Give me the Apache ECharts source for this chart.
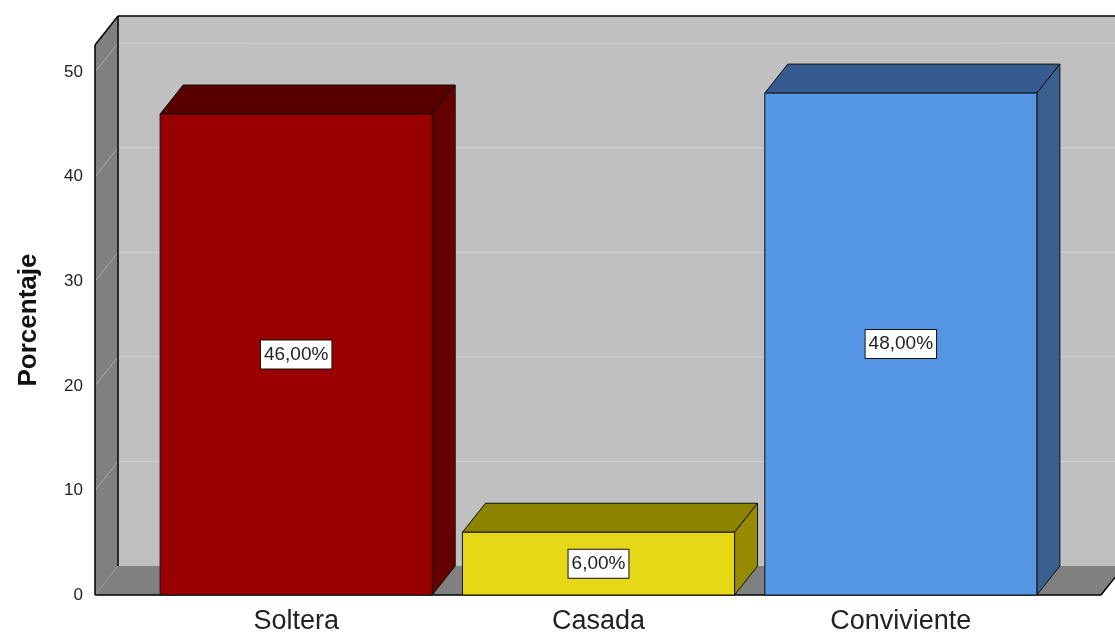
<!DOCTYPE html>
<html>
<head>
<meta charset="utf-8">
<script src="https://cdn.jsdelivr.net/npm/echarts@6/dist/echarts.min.js"></script>
<style>
  html, body { margin: 0; padding: 0; background: #fff; }
  #chart { width: 1115px; height: 635px; }
</style>
</head>
<body>
<div id="chart"></div>
<script>
// ---- data ----
const categories = ['Soltera', 'Casada', 'Conviviente'];
const percentages = [46, 6, 48];
const yTicks = [0, 10, 20, 30, 40, 50];

// ---- styles ----
const frontColors = ['#990000', '#e6d817', '#5596e3'];
const topColors = ['#580000', '#8c8400', '#365c8f'];
const sideColors = ['#640000', '#958a00', '#39608f'];
const DX = 23, DY = -29;
const FONT = '"Liberation Sans", Arial, sans-serif';

function fmtPct(v) { return v.toFixed(2).replace('.', ',') + '%'; }

const chart = echarts.init(document.getElementById('chart'), null, { renderer: 'canvas' });

const option = {
  animation: false,
  backgroundColor: '#ffffff',
  grid: { left: 145, right: 63, top: 45, bottom: 40, containLabel: false, outerBoundsMode: 'none' },
  xAxis: {
    type: 'category',
    data: categories,
    axisLine: { show: false },
    axisTick: { show: false },
    axisLabel: { fontSize: 27, color: '#222', fontFamily: FONT, margin: 13 }
  },
  yAxis: {
    type: 'value',
    min: 0,
    max: 52.6,
    interval: 10,
    name: 'Porcentaje',
    nameLocation: 'middle',
    nameGap: 103,
    nameTextStyle: { fontSize: 26, fontWeight: 'bold', color: '#111', fontFamily: FONT },
    axisLine: { show: false },
    axisTick: { show: false },
    splitLine: { show: false },
    axisLabel: {
      fontSize: 17, color: '#222', fontFamily: FONT, margin: 62,
      padding: [6, 0, 0, 0],
      showMaxLabel: false,
      formatter: function (v) { return yTicks.indexOf(v) >= 0 ? String(v) : ''; }
    }
  },
  series: [
    {
      type: 'custom',
      z: 1,
      silent: true,
      data: [[0, 0]],
      encode: { x: 0, y: 1 },
      renderItem: function (params, api) {
        const cs = params.coordSys;
        const y0 = api.coord([0, 0])[1];
        const yTop = cs.y;
        const xL = cs.x - 50;
        const xR = cs.x + cs.width + 49;
        const far = xR + DX + 40;
        const ch = [];
        // back wall
        ch.push({ type: 'rect', shape: { x: xL + DX, y: yTop + DY, width: far - (xL + DX), height: y0 - yTop },
                  style: { fill: '#c0c0c0' } });
        // side wall
        ch.push({ type: 'polygon', shape: { points: [[xL, yTop], [xL + DX, yTop + DY], [xL + DX, y0 + DY], [xL, y0]] },
                  style: { fill: '#808080' } });
        // floor
        ch.push({ type: 'polygon', shape: { points: [[xL, y0], [xL + DX, y0 + DY], [xR + DX, y0 + DY], [xR, y0]] },
                  style: { fill: '#808080' } });
        // grid lines
        yTicks.forEach(function (t) {
          if (t === 0) return;
          const y = api.coord([0, t])[1];
          ch.push({ type: 'line', shape: { x1: xL, y1: y, x2: xL + DX, y2: y + DY },
                    style: { stroke: '#a9a9a9', lineWidth: 1 } });
          ch.push({ type: 'line', shape: { x1: xL + DX, y1: y + DY, x2: far, y2: y + DY },
                    style: { stroke: '#d0d0d0', lineWidth: 1 } });
        });
        // edges
        const edge = { stroke: '#000', lineWidth: 1.5 };
        ch.push({ type: 'line', shape: { x1: xL, y1: yTop, x2: xL, y2: y0 }, style: edge });
        ch.push({ type: 'line', shape: { x1: xL, y1: yTop, x2: xL + DX, y2: yTop + DY }, style: edge });
        ch.push({ type: 'line', shape: { x1: xL + DX, y1: yTop + DY, x2: xL + DX, y2: y0 + DY }, style: edge });
        ch.push({ type: 'line', shape: { x1: xL + DX, y1: yTop + DY, x2: far, y2: yTop + DY }, style: edge });
        ch.push({ type: 'line', shape: { x1: xL, y1: y0, x2: xR, y2: y0 }, style: edge });
        ch.push({ type: 'line', shape: { x1: xR, y1: y0, x2: xR + DX, y2: y0 + DY }, style: edge });
        return { type: 'group', children: ch };
      }
    },
    {
      type: 'custom',
      z: 2,
      data: categories.map(function (c, i) { return [i, percentages[i]]; }),
      encode: { x: 0, y: 1 },
      renderItem: function (params, api) {
        const i = api.value(0);
        const v = api.value(1);
        const top = api.coord([i, v]);
        const base = api.coord([i, 0]);
        const bw = api.size([1, 0])[0] * 0.9;
        const x0 = top[0] - bw / 2, x1 = top[0] + bw / 2;
        const yT = top[1], yB = base[1];
        const stroke = '#111';
        return {
          type: 'group',
          children: [
            { type: 'polygon', shape: { points: [[x0, yT], [x0 + DX, yT + DY], [x1 + DX, yT + DY], [x1, yT]] },
              style: { fill: topColors[i], stroke: stroke, lineWidth: 1 } },
            { type: 'polygon', shape: { points: [[x1, yT], [x1 + DX, yT + DY], [x1 + DX, yB + DY], [x1, yB]] },
              style: { fill: sideColors[i], stroke: stroke, lineWidth: 1 } },
            { type: 'rect', shape: { x: x0, y: yT, width: bw, height: yB - yT },
              style: { fill: frontColors[i], stroke: stroke, lineWidth: 1 } },
            { type: 'text', z2: 10,
              style: {
                text: fmtPct(v), x: top[0], y: (yT + yB) / 2,
                align: 'center', verticalAlign: 'middle',
                font: '19px ' + FONT, fill: '#222',
                backgroundColor: '#ffffff', borderColor: '#111', borderWidth: 1,
                padding: [5, 3, 4, 3]
              } }
          ]
        };
      }
    }
  ]
};

chart.setOption(option);
</script>
</body>
</html>
